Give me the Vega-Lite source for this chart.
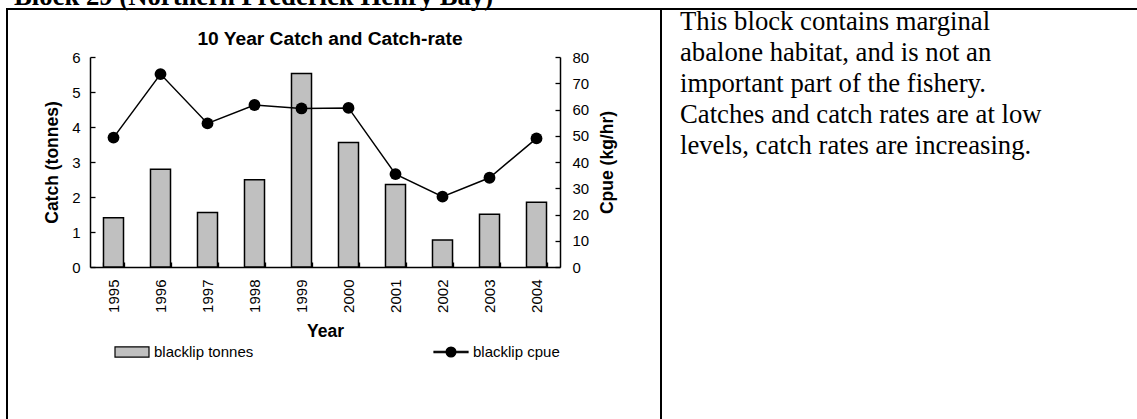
{
  "$schema": "https://vega.github.io/schema/vega-lite/v6.json",
  "autosize": {"type": "none"},
  "padding": {"left": 7, "top": 9, "right": 1130, "bottom": 410},
  "background": "white",
  "title": {
    "text": "Block 29 (Northern Frederick Henry Bay)",
    "anchor": "start",
    "font": "Liberation Serif",
    "fontSize": 26.7,
    "fontWeight": "bold",
    "color": "black",
    "offset": 0,
    "baseline": "alphabetic",
    "dx": 15,
    "dy": 24
  },
  "spacing": 0,
  "bounds": "flush",
  "config": {
    "view": {"stroke": "black", "strokeWidth": 2},
    "font": "Liberation Sans",
    "legend": {"symbolStrokeColor": "black", "symbolStrokeWidth": 1.2},
    "axis": {
      "labelFont": "Liberation Sans",
      "titleFont": "Liberation Sans",
      "labelColor": "black",
      "titleColor": "black",
      "domainColor": "black",
      "tickColor": "black",
      "domainWidth": 1.5,
      "tickWidth": 1.3,
      "grid": false,
      "labelFontSize": 15,
      "titleFontSize": 17.5,
      "titleFontWeight": "bold",
      "labelOverlap": false,
      "labelFlush": false,
      "labelBound": false,
      "tickSize": -5
    }
  },
  "hconcat": [
    {
      "width": 654,
      "height": 411,
      "data": {
        "values": [
          {"year": "1995", "tonnes": 1.41, "cpue": 49.3},
          {"year": "1996", "tonnes": 2.79, "cpue": 73.5},
          {"year": "1997", "tonnes": 1.56, "cpue": 54.7},
          {"year": "1998", "tonnes": 2.49, "cpue": 61.7},
          {"year": "1999", "tonnes": 5.53, "cpue": 60.4},
          {"year": "2000", "tonnes": 3.56, "cpue": 60.6},
          {"year": "2001", "tonnes": 2.36, "cpue": 35.4},
          {"year": "2002", "tonnes": 0.77, "cpue": 26.8},
          {"year": "2003", "tonnes": 1.51, "cpue": 34.0},
          {"year": "2004", "tonnes": 1.85, "cpue": 49.0}
        ]
      },
      "title": {
        "text": "10 Year Catch and Catch-rate",
        "font": "Liberation Sans",
        "fontSize": 19.2,
        "fontWeight": "bold",
        "color": "black",
        "anchor": "middle",
        "offset": 0,
        "baseline": "alphabetic",
        "dx": -4,
        "dy": 55
      },
      "layer": [
        {
          "mark": {"type": "bar", "stroke": "black", "strokeWidth": 1.5},
          "encoding": {
            "x": {
              "field": "year",
              "type": "ordinal",
              "scale": {"range": [83, 553], "paddingInner": 0.574, "paddingOuter": 0.287},
              "axis": {
                "orient": "bottom",
                "offset": -153,
                "title": "Year",
                "labelAngle": -90,
                "tickBand": "extent",
                "labelPadding": 17,
                "titlePadding": 10
              }
            },
            "y": {
              "field": "tonnes",
              "type": "quantitative",
              "scale": {"domain": [0, 6], "range": [258, 48], "nice": false},
              "axis": {
                "orient": "left",
                "offset": -83,
                "title": "Catch (tonnes)",
                "values": [0, 1, 2, 3, 4, 5, 6],
                "labelPadding": 15,
                "titlePadding": 10
              }
            },
            "color": {
              "datum": "blacklip tonnes",
              "type": "nominal",
              "scale": {"domain": ["blacklip tonnes", "blacklip cpue"], "range": ["#c0c0c0", "#000000"]},
              "legend": {
                "orient": "none",
                "legendX": 107,
                "legendY": 325,
                "direction": "horizontal",
                "columns": 2,
                "columnPadding": 177,
                "title": null,
                "padding": 0,
                "labelFont": "Liberation Sans",
                "labelFontSize": 15,
                "labelColor": "black",
                "labelOffset": 4,
                "symbolSize": 1156,
                "symbolStrokeColor": "black",
                "symbolStrokeWidth": 1.2,
                "encode": {
                  "symbols": {
                    "update": {
                      "shape": {"signal": "datum.value === 'blacklip tonnes' ? 'M-1,-0.3H1V0.3H-1Z' : 'M-1,-0.045H1V0.045H-1Z M0.29,0A0.29,0.29,0,1,1,-0.29,0A0.29,0.29,0,1,1,0.29,0Z'"},
                      "stroke": {"value": "#000000"},
                      "strokeWidth": {"value": 1.2},
                      "opacity": {"value": 1}
                    }
                  }
                }
              }
            }
          }
        },
        {
          "encoding": {
            "x": {"field": "year", "type": "ordinal"},
            "y": {
              "field": "cpue",
              "type": "quantitative",
              "scale": {"domain": [0, 80], "range": [258, 48], "nice": false},
              "axis": {
                "orient": "right",
                "offset": -101,
                "title": "Cpue (kg/hr)",
                "titleAngle": 270,
                "titleBaseline": "top",
                "values": [0, 10, 20, 30, 40, 50, 60, 70, 80],
                "labelPadding": 17,
                "titlePadding": 10
              }
            }
          },
          "layer": [
            {"mark": {"type": "line", "strokeWidth": 1.5, "color": "black"}},
            {"mark": {"type": "point", "filled": true, "size": 140, "opacity": 1, "color": "black"}}
          ]
        }
      ],
      "resolve": {"scale": {"y": "independent"}}
    },
    {
      "width": 478,
      "height": 411,
      "data": {
        "values": [
          {"line": 1, "text": "This block contains marginal"},
          {"line": 2, "text": "abalone habitat, and is not an"},
          {"line": 3, "text": "important part of the fishery."},
          {"line": 4, "text": "Catches and catch rates are at low"},
          {"line": 5, "text": "levels, catch rates are increasing."}
        ]
      },
      "mark": {
        "type": "text",
        "align": "left",
        "baseline": "alphabetic",
        "font": "Liberation Serif",
        "fontSize": 26.7,
        "color": "black"
      },
      "encoding": {
        "y": {"field": "line", "type": "ordinal", "scale": {"type": "point", "range": [20.5, 144.5], "padding": 0}, "axis": null},
        "x": {"datum": 0, "type": "quantitative", "scale": {"domain": [0, 1], "range": [19, 459]}, "axis": null},
        "text": {"field": "text"}
      }
    }
  ]
}
